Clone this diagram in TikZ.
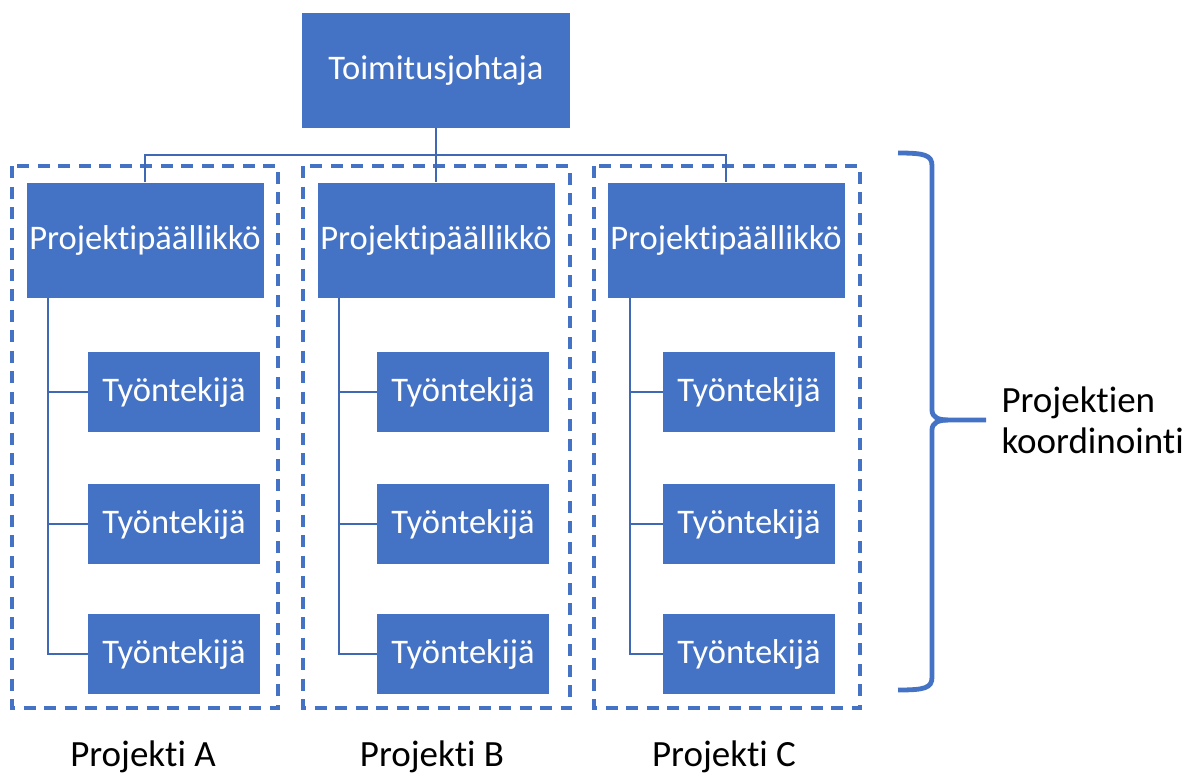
\documentclass[tikz,border=0pt]{standalone}
\usepackage{fontspec}
\setmainfont{Carlito}[Ligatures=NoCommon]
\definecolor{accent}{HTML}{4472C4}
\definecolor{linkblue}{HTML}{3F68B5}
\begin{document}
\begin{tikzpicture}[x=1pt,y=-1pt,
  box/.style={rectangle, fill=accent, text=white, inner sep=0pt, font=\fontsize{34.5}{40}\selectfont},
  topbox/.style={box, minimum width=268pt, minimum height=115pt},
  pmbox/.style={box, minimum width=237pt, minimum height=115pt},
  empbox/.style={box, minimum width=172pt, minimum height=80pt},
  group/.style={draw=accent, line width=3.3pt, dash pattern=on 12pt off 8.5pt},
  link/.style={draw=linkblue, line width=1.8pt},
  brace/.style={draw=accent, line width=4.8pt},
  caption/.style={font=\fontsize{37}{41}\selectfont, text=black}]
\useasboundingbox (0,0) rectangle (1203,777);

% project frames
\draw[group] (12,166) rectangle (278,708);
\draw[group] (303,166) rectangle (570,708);
\draw[group] (594,166) rectangle (860,708);

% chief executive
\node[topbox] (ceo) at (436,70) {Toimitusjohtaja};

% project managers
\node[pmbox] (pmA) at (145,240) {Projektipäällikkö};
\node[pmbox] (pmB) at (436,240) {Projektipäällikkö};
\node[pmbox] (pmC) at (726,240) {Projektipäällikkö};

% employees
\foreach \p/\x in {A/174, B/463, C/749}{
  \node[empbox] (e\p1) at (\x,392) {Työntekijä};
  \node[empbox] (e\p2) at (\x,524) {Työntekijä};
  \node[empbox] (e\p3) at (\x,654) {Työntekijä};
}

% executive to managers
\coordinate (bus) at (436,155);
\draw[link] (ceo.south) -- (pmB.north);
\draw[link] (pmA.north) |- (bus) -| (pmC.north);

% managers to employees
\foreach \p/\x in {A/48, B/339, C/630}{
  \coordinate (r\p) at (\x,0);
  \draw[link] (pm\p.south -| r\p) |- (e\p3.west);
  \draw[link] (e\p1.west -| r\p) -- (e\p1.west);
  \draw[link] (e\p2.west -| r\p) -- (e\p2.west);
}

% coordination brace
\coordinate (bTop) at (898,153);
\coordinate (bBot) at (898,690);
\coordinate (bTip) at (986,420);
\draw[brace] (bTop) .. controls (925,153) and (932,155) .. (932,166)
  -- (932,410) .. controls (932,417) and (938,420) .. (948,420) -- (bTip);
\draw[brace] (948,420) .. controls (938,420) and (932,423) .. (932,430)
  -- (932,677) .. controls (932,688) and (925,690) .. (bBot);
\node[caption, anchor=west, align=left] (coord) at (998,420) {Projektien\\koordinointi};

% project captions
\node[caption] (capA) at (143,757) {Projekti A};
\node[caption] (capB) at (432,757) {Projekti B};
\node[caption] (capC) at (724,757) {Projekti C};
\end{tikzpicture}
\end{document}
